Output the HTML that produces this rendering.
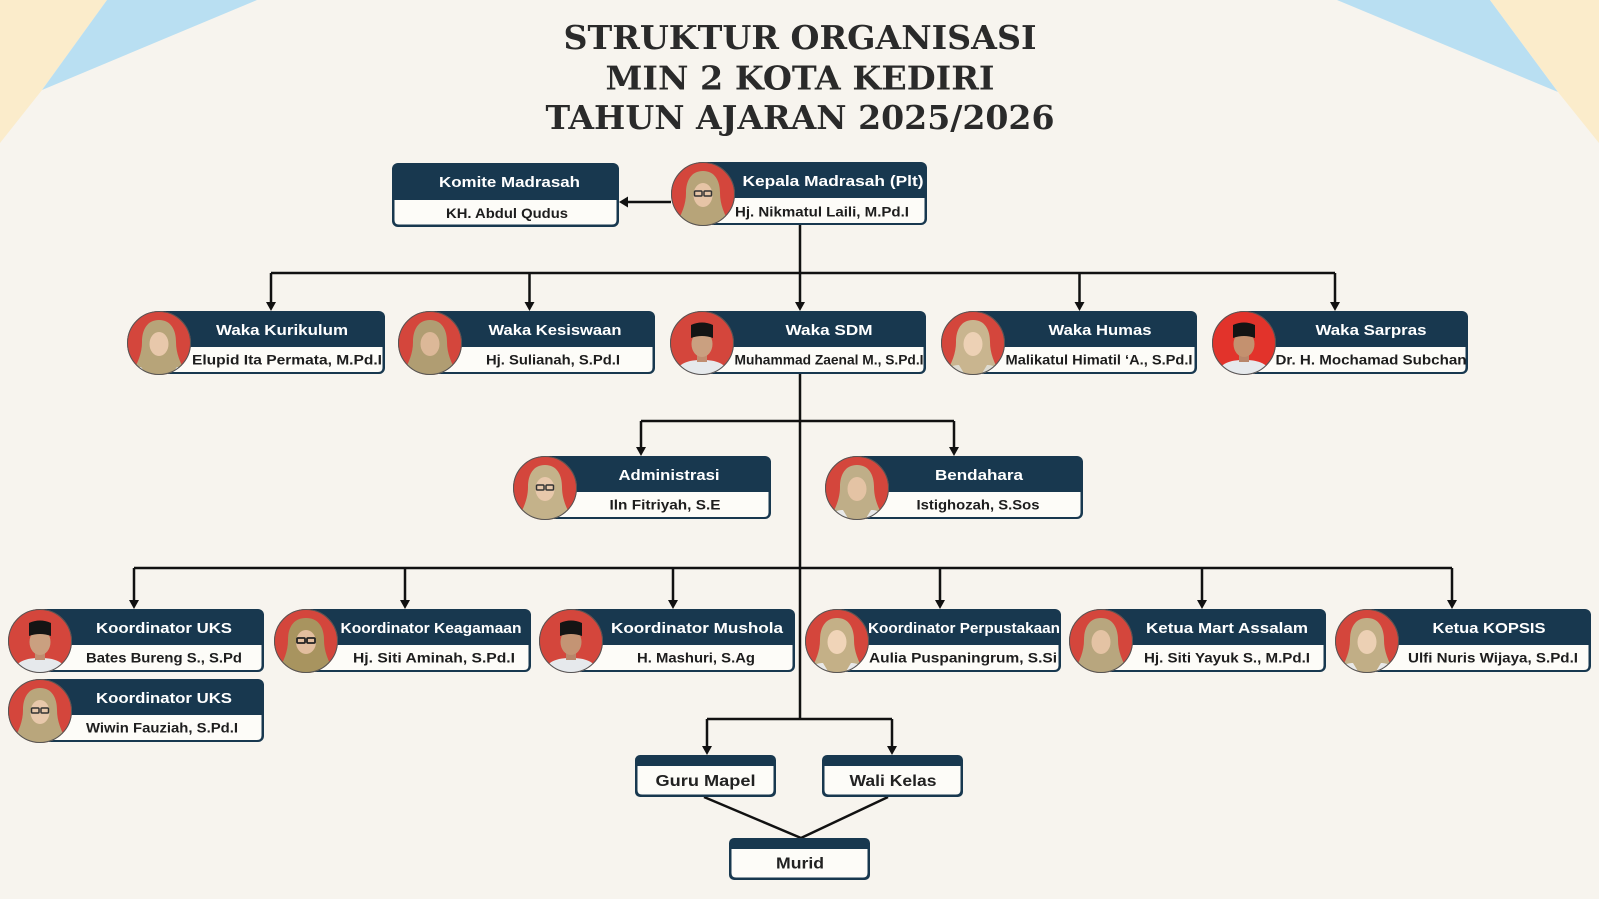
<!DOCTYPE html>
<html>
<head>
<meta charset="utf-8">
<style>
  html,body{margin:0;padding:0;background:#f7f4ee;}
  svg{display:block;}
  .hd{font-family:"Liberation Sans",Arial,sans-serif;font-weight:bold;font-size:15px;fill:#ffffff;}
  .nm{font-family:"Liberation Sans",Arial,sans-serif;font-weight:bold;font-size:13.5px;fill:#1d1d1d;}
  .tt{font-family:"DejaVu Serif","Liberation Serif",serif;font-weight:bold;font-size:33px;fill:#2a2a2a;}
  .bx{font-family:"Liberation Sans",Arial,sans-serif;font-weight:bold;font-size:16px;fill:#222;}
</style>
</head>
<body>
<svg width="1599" height="899" viewBox="0 0 1599 899" xmlns="http://www.w3.org/2000/svg">
<defs>
  <clipPath id="cp"><circle cx="32" cy="32" r="32"/></clipPath>
</defs>
<rect width="1599" height="899" fill="#f7f4ee"/>
<!-- corner decorations -->
<polygon points="0,0 107,0 42,90 0,143" fill="#fbeccb"/>
<polygon points="107,0 257,0 42,90" fill="#b9dff2"/>
<polygon points="1337,0 1490,0 1558,92" fill="#b9dff2"/>
<polygon points="1490,0 1599,0 1599,143 1558,92" fill="#fbeccb"/>

<!-- title -->
<text class="tt" x="800" y="49" text-anchor="middle" textLength="473" lengthAdjust="spacingAndGlyphs">STRUKTUR ORGANISASI</text>
<text class="tt" x="800" y="89.5" text-anchor="middle" textLength="389" lengthAdjust="spacingAndGlyphs">MIN 2 KOTA KEDIRI</text>
<text class="tt" x="800" y="129" text-anchor="middle" textLength="509" lengthAdjust="spacingAndGlyphs">TAHUN AJARAN 2025/2026</text>

<!-- connectors -->
<g stroke="#111" stroke-width="2.5" fill="none">
  <path d="M671 202 H627"/>
  <path d="M800 225 V273 M271 273 H1335 M271 273 V302 M529.5 273 V302 M800 273 V302 M1079.5 273 V302 M1335 273 V302"/>
  <path d="M800 374 V719"/>
  <path d="M641 421 H954 M641 421 V447 M954 421 V447"/>
  <path d="M134 568 H1452 M134 568 V600 M405 568 V600 M673 568 V600 M940 568 V600 M1202 568 V600 M1452 568 V600"/>
  <path d="M707 719 H892 M707 719 V746 M892 719 V746"/>
  <path d="M704 797 L801 838 M888 797 L801 838"/>
</g>
<g fill="#111">
  <path d="M628 196.5 L628 207.5 L619 202 Z"/>
  <path d="M266 302 H276 L271 311 Z"/>
  <path d="M524.5 302 H534.5 L529.5 311 Z"/>
  <path d="M795 302 H805 L800 311 Z"/>
  <path d="M1074.5 302 H1084.5 L1079.5 311 Z"/>
  <path d="M1330 302 H1340 L1335 311 Z"/>
  <path d="M636 447 H646 L641 456 Z"/>
  <path d="M949 447 H959 L954 456 Z"/>
  <path d="M129 600 H139 L134 609 Z"/>
  <path d="M400 600 H410 L405 609 Z"/>
  <path d="M668 600 H678 L673 609 Z"/>
  <path d="M935 600 H945 L940 609 Z"/>
  <path d="M1197 600 H1207 L1202 609 Z"/>
  <path d="M1447 600 H1457 L1452 609 Z"/>
  <path d="M702 746 H712 L707 755 Z"/>
  <path d="M887 746 H897 L892 755 Z"/>
</g>

<!-- Komite Madrasah -->
<rect x="392" y="163" width="227" height="64" rx="6" fill="#18384f"/>
<path d="M394.5 200 H616.5 V220 Q616.5 224.5 612 224.5 H399 Q394.5 224.5 394.5 220 Z" fill="#fdfcf8"/>
<text class="hd" x="509.5" y="187" text-anchor="middle" textLength="141" lengthAdjust="spacingAndGlyphs">Komite Madrasah</text>
<text class="nm" x="507" y="218" text-anchor="middle" textLength="122" lengthAdjust="spacingAndGlyphs">KH. Abdul Qudus</text>

<!-- CARD TEMPLATE: navy rect from x0+30 to R, T..T+63 ; white body T+36..T+61 -->
<!-- 1 Kepala -->
<rect x="701" y="162" width="226" height="63" rx="6" fill="#18384f"/>
<path d="M701 198 H924.5 V218.5 Q924.5 223 920 223 H701 Z" fill="#fdfcf8"/>
<text class="hd" x="833" y="186" text-anchor="middle" textLength="181" lengthAdjust="spacingAndGlyphs">Kepala Madrasah (Plt)</text>
<text class="nm" x="822" y="216.5" text-anchor="middle" textLength="174" lengthAdjust="spacingAndGlyphs">Hj. Nikmatul Laili, M.Pd.I</text>

<!-- 2 Kurikulum -->
<rect x="157" y="311" width="228" height="63" rx="6" fill="#18384f"/>
<path d="M157 347 H382.5 V367.5 Q382.5 372 378 372 H157 Z" fill="#fdfcf8"/>
<text class="hd" x="282" y="335" text-anchor="middle" textLength="132" lengthAdjust="spacingAndGlyphs">Waka Kurikulum</text>
<text class="nm" x="287" y="364.5" text-anchor="middle" textLength="190" lengthAdjust="spacingAndGlyphs">Elupid Ita Permata, M.Pd.I</text>

<!-- 3 Kesiswaan -->
<rect x="428" y="311" width="227" height="63" rx="6" fill="#18384f"/>
<path d="M428 347 H652.5 V367.5 Q652.5 372 648 372 H428 Z" fill="#fdfcf8"/>
<text class="hd" x="555" y="335" text-anchor="middle" textLength="133" lengthAdjust="spacingAndGlyphs">Waka Kesiswaan</text>
<text class="nm" x="553" y="364.5" text-anchor="middle" textLength="134" lengthAdjust="spacingAndGlyphs">Hj. Sulianah, S.Pd.I</text>

<!-- 4 SDM -->
<rect x="700" y="311" width="226" height="63" rx="6" fill="#18384f"/>
<path d="M700 347 H923.5 V367.5 Q923.5 372 919 372 H700 Z" fill="#fdfcf8"/>
<text class="hd" x="829" y="335" text-anchor="middle" textLength="87" lengthAdjust="spacingAndGlyphs">Waka SDM</text>
<text class="nm" x="829" y="364.5" text-anchor="middle" textLength="189" lengthAdjust="spacingAndGlyphs">Muhammad Zaenal M., S.Pd.I</text>

<!-- 5 Humas -->
<rect x="971" y="311" width="226" height="63" rx="6" fill="#18384f"/>
<path d="M971 347 H1194.5 V367.5 Q1194.5 372 1190 372 H971 Z" fill="#fdfcf8"/>
<text class="hd" x="1100" y="335" text-anchor="middle" textLength="103" lengthAdjust="spacingAndGlyphs">Waka Humas</text>
<text class="nm" x="1099" y="364.5" text-anchor="middle" textLength="187" lengthAdjust="spacingAndGlyphs">Malikatul Himatil ‘A., S.Pd.I</text>

<!-- 6 Sarpras -->
<rect x="1242" y="311" width="226" height="63" rx="6" fill="#18384f"/>
<path d="M1242 347 H1465.5 V367.5 Q1465.5 372 1461 372 H1242 Z" fill="#fdfcf8"/>
<text class="hd" x="1371" y="335" text-anchor="middle" textLength="111" lengthAdjust="spacingAndGlyphs">Waka Sarpras</text>
<text class="nm" x="1371" y="364.5" text-anchor="middle" textLength="191" lengthAdjust="spacingAndGlyphs">Dr. H. Mochamad Subchan</text>

<!-- 7 Administrasi -->
<rect x="543" y="456" width="228" height="63" rx="6" fill="#18384f"/>
<path d="M543 492 H768.5 V512.5 Q768.5 517 764 517 H543 Z" fill="#fdfcf8"/>
<text class="hd" x="669" y="480" text-anchor="middle" textLength="101" lengthAdjust="spacingAndGlyphs">Administrasi</text>
<text class="nm" x="665" y="509.5" text-anchor="middle" textLength="111" lengthAdjust="spacingAndGlyphs">Iln Fitriyah, S.E</text>

<!-- 8 Bendahara -->
<rect x="855" y="456" width="228" height="63" rx="6" fill="#18384f"/>
<path d="M855 492 H1080.5 V512.5 Q1080.5 517 1076 517 H855 Z" fill="#fdfcf8"/>
<text class="hd" x="979" y="480" text-anchor="middle" textLength="88" lengthAdjust="spacingAndGlyphs">Bendahara</text>
<text class="nm" x="978" y="509.5" text-anchor="middle" textLength="123" lengthAdjust="spacingAndGlyphs">Istighozah, S.Sos</text>

<!-- 9 UKS1 -->
<rect x="38" y="609" width="226" height="63" rx="6" fill="#18384f"/>
<path d="M38 645 H261.5 V665.5 Q261.5 670 257 670 H38 Z" fill="#fdfcf8"/>
<text class="hd" x="164" y="633" text-anchor="middle" textLength="136" lengthAdjust="spacingAndGlyphs">Koordinator UKS</text>
<text class="nm" x="164" y="662.5" text-anchor="middle" textLength="156" lengthAdjust="spacingAndGlyphs">Bates Bureng S., S.Pd</text>

<!-- 10 UKS2 -->
<rect x="38" y="679" width="226" height="63" rx="6" fill="#18384f"/>
<path d="M38 715 H261.5 V735.5 Q261.5 740 257 740 H38 Z" fill="#fdfcf8"/>
<text class="hd" x="164" y="703" text-anchor="middle" textLength="136" lengthAdjust="spacingAndGlyphs">Koordinator UKS</text>
<text class="nm" x="162" y="732.5" text-anchor="middle" textLength="152" lengthAdjust="spacingAndGlyphs">Wiwin Fauziah, S.Pd.I</text>

<!-- 11 Keagamaan -->
<rect x="304" y="609" width="227" height="63" rx="6" fill="#18384f"/>
<path d="M304 645 H528.5 V665.5 Q528.5 670 524 670 H304 Z" fill="#fdfcf8"/>
<text class="hd" x="431" y="633" text-anchor="middle" textLength="181" lengthAdjust="spacingAndGlyphs">Koordinator Keagamaan</text>
<text class="nm" x="434" y="662.5" text-anchor="middle" textLength="162" lengthAdjust="spacingAndGlyphs">Hj. Siti Aminah, S.Pd.I</text>

<!-- 12 Mushola -->
<rect x="569" y="609" width="226" height="63" rx="6" fill="#18384f"/>
<path d="M569 645 H792.5 V665.5 Q792.5 670 788 670 H569 Z" fill="#fdfcf8"/>
<text class="hd" x="697" y="633" text-anchor="middle" textLength="172" lengthAdjust="spacingAndGlyphs">Koordinator Mushola</text>
<text class="nm" x="696" y="662.5" text-anchor="middle" textLength="118" lengthAdjust="spacingAndGlyphs">H. Mashuri, S.Ag</text>

<!-- 13 Perpustakaan -->
<rect x="835" y="609" width="226" height="63" rx="6" fill="#18384f"/>
<path d="M835 645 H1058.5 V665.5 Q1058.5 670 1054 670 H835 Z" fill="#fdfcf8"/>
<text class="hd" x="964" y="633" text-anchor="middle" textLength="192" lengthAdjust="spacingAndGlyphs">Koordinator Perpustakaan</text>
<text class="nm" x="963" y="662.5" text-anchor="middle" textLength="188" lengthAdjust="spacingAndGlyphs">Aulia Puspaningrum, S.Si</text>

<!-- 14 Mart Assalam -->
<rect x="1099" y="609" width="227" height="63" rx="6" fill="#18384f"/>
<path d="M1099 645 H1323.5 V665.5 Q1323.5 670 1319 670 H1099 Z" fill="#fdfcf8"/>
<text class="hd" x="1227" y="633" text-anchor="middle" textLength="162" lengthAdjust="spacingAndGlyphs">Ketua Mart Assalam</text>
<text class="nm" x="1227" y="662.5" text-anchor="middle" textLength="166" lengthAdjust="spacingAndGlyphs">Hj. Siti Yayuk S., M.Pd.I</text>

<!-- 15 KOPSIS -->
<rect x="1365" y="609" width="226" height="63" rx="6" fill="#18384f"/>
<path d="M1365 645 H1588.5 V665.5 Q1588.5 670 1584 670 H1365 Z" fill="#fdfcf8"/>
<text class="hd" x="1489" y="633" text-anchor="middle" textLength="113" lengthAdjust="spacingAndGlyphs">Ketua KOPSIS</text>
<text class="nm" x="1493" y="662.5" text-anchor="middle" textLength="170" lengthAdjust="spacingAndGlyphs">Ulfi Nuris Wijaya, S.Pd.I</text>

<!-- PHOTOS -->
<!-- female template -->
<g id="photos">
<!-- Kepala (F, glasses) -->
<g transform="translate(671,162)"><g clip-path="url(#cp)"><rect width="64" height="64" fill="#d4463c"/><path d="M32 9 C20 9 15 19 15 31 C15 42 11 52 4 64 H60 C53 52 49 42 49 31 C49 19 44 9 32 9Z" fill="#b7a479"/><ellipse cx="32" cy="33" rx="9.5" ry="12" fill="#e6c4a6"/><g fill="none" stroke="#333" stroke-width="1.5"><rect x="23.5" y="29" width="7.5" height="5" rx="1"/><rect x="33" y="29" width="7.5" height="5" rx="1"/></g></g><circle cx="32" cy="32" r="31.5" fill="none" stroke="#555" stroke-width="1"/></g>
<!-- Kurikulum F -->
<g transform="translate(127,311)"><g clip-path="url(#cp)"><rect width="64" height="64" fill="#d4463c"/><path d="M32 9 C20 9 15 19 15 31 C15 42 11 52 4 64 H60 C53 52 49 42 49 31 C49 19 44 9 32 9Z" fill="#b7a479"/><ellipse cx="32" cy="33" rx="9.5" ry="12" fill="#e8c8ab"/><path d="M2 64 C6 58 10 56 14 56 L20 64Z" fill="#e9e9e9"/><path d="M62 64 C58 58 54 56 50 56 L44 64Z" fill="#e9e9e9"/></g><circle cx="32" cy="32" r="31.5" fill="none" stroke="#555" stroke-width="1"/></g>
<!-- Kesiswaan F -->
<g transform="translate(398,311)"><g clip-path="url(#cp)"><rect width="64" height="64" fill="#d4463c"/><path d="M32 9 C20 9 15 19 15 31 C15 42 11 52 4 64 H60 C53 52 49 42 49 31 C49 19 44 9 32 9Z" fill="#b09d72"/><ellipse cx="32" cy="33" rx="9.5" ry="12" fill="#dcb898"/></g><circle cx="32" cy="32" r="31.5" fill="none" stroke="#555" stroke-width="1"/></g>
<!-- SDM M -->
<g transform="translate(670,311)"><g clip-path="url(#cp)"><rect width="64" height="64" fill="#d4463c"/><path d="M4 64 C8 52 18 49 32 49 C46 49 56 52 60 64Z" fill="#e6e9ec"/><rect x="27" y="42" width="10" height="9" fill="#c08d70"/><ellipse cx="32" cy="33" rx="10.5" ry="13" fill="#caa080"/><path d="M21 27 V14 Q32 9 43 14 V27 Q32 23 21 27Z" fill="#141414"/></g><circle cx="32" cy="32" r="31.5" fill="none" stroke="#555" stroke-width="1"/></g>
<!-- Humas F -->
<g transform="translate(941,311)"><g clip-path="url(#cp)"><rect width="64" height="64" fill="#d4463c"/><path d="M32 9 C20 9 15 19 15 31 C15 42 11 52 4 64 H60 C53 52 49 42 49 31 C49 19 44 9 32 9Z" fill="#c9b58f"/><ellipse cx="32" cy="33" rx="9.5" ry="12" fill="#edd1b5"/><path d="M2 64 C6 56 12 54 18 54 L24 64Z" fill="#dedcd2"/><path d="M62 64 C58 56 52 54 46 54 L40 64Z" fill="#dedcd2"/></g><circle cx="32" cy="32" r="31.5" fill="none" stroke="#555" stroke-width="1"/></g>
<!-- Sarpras M -->
<g transform="translate(1212,311)"><g clip-path="url(#cp)"><rect width="64" height="64" fill="#e2332b"/><path d="M4 64 C8 52 18 49 32 49 C46 49 56 52 60 64Z" fill="#e6e9ec"/><rect x="27" y="42" width="10" height="9" fill="#b8866a"/><ellipse cx="32" cy="33" rx="10.5" ry="13" fill="#c4916f"/><path d="M21 27 V14 Q32 9 43 14 V27 Q32 23 21 27Z" fill="#141414"/></g><circle cx="32" cy="32" r="31.5" fill="none" stroke="#555" stroke-width="1"/></g>
<!-- Admin F glasses -->
<g transform="translate(513,456)"><g clip-path="url(#cp)"><rect width="64" height="64" fill="#d4463c"/><path d="M32 9 C20 9 15 19 15 31 C15 42 11 52 4 64 H60 C53 52 49 42 49 31 C49 19 44 9 32 9Z" fill="#c4b28a"/><ellipse cx="32" cy="33" rx="9.5" ry="12" fill="#e8c8ab"/><g fill="none" stroke="#333" stroke-width="1.5"><rect x="23.5" y="29" width="7.5" height="5" rx="1"/><rect x="33" y="29" width="7.5" height="5" rx="1"/></g></g><circle cx="32" cy="32" r="31.5" fill="none" stroke="#555" stroke-width="1"/></g>
<!-- Bendahara F -->
<g transform="translate(825,456)"><g clip-path="url(#cp)"><rect width="64" height="64" fill="#d4463c"/><path d="M32 9 C20 9 15 19 15 31 C15 42 11 52 4 64 H60 C53 52 49 42 49 31 C49 19 44 9 32 9Z" fill="#bfae88"/><ellipse cx="32" cy="33" rx="9.5" ry="12" fill="#e4c3a4"/><path d="M2 64 C6 56 12 54 18 54 L24 64Z" fill="#e9e9e9"/><path d="M62 64 C58 56 52 54 46 54 L40 64Z" fill="#e9e9e9"/></g><circle cx="32" cy="32" r="31.5" fill="none" stroke="#555" stroke-width="1"/></g>
<!-- UKS1 M -->
<g transform="translate(8,609)"><g clip-path="url(#cp)"><rect width="64" height="64" fill="#d4463c"/><path d="M4 64 C8 52 18 49 32 49 C46 49 56 52 60 64Z" fill="#e6e9ec"/><rect x="27" y="42" width="10" height="9" fill="#c08d70"/><ellipse cx="32" cy="33" rx="10.5" ry="13" fill="#caa080"/><path d="M21 27 V14 Q32 9 43 14 V27 Q32 23 21 27Z" fill="#141414"/></g><circle cx="32" cy="32" r="31.5" fill="none" stroke="#555" stroke-width="1"/></g>
<!-- UKS2 F glasses -->
<g transform="translate(8,679)"><g clip-path="url(#cp)"><rect width="64" height="64" fill="#d4463c"/><path d="M32 9 C20 9 15 19 15 31 C15 42 11 52 4 64 H60 C53 52 49 42 49 31 C49 19 44 9 32 9Z" fill="#b9a67c"/><ellipse cx="32" cy="33" rx="9.5" ry="12" fill="#e8c8ab"/><g fill="none" stroke="#333" stroke-width="1.5"><rect x="23.5" y="29" width="7.5" height="5" rx="1"/><rect x="33" y="29" width="7.5" height="5" rx="1"/></g></g><circle cx="32" cy="32" r="31.5" fill="none" stroke="#555" stroke-width="1"/></g>
<!-- Keagamaan F glasses -->
<g transform="translate(274,609)"><g clip-path="url(#cp)"><rect width="64" height="64" fill="#d4463c"/><path d="M32 9 C19 9 14 19 14 31 C14 42 10 52 3 64 H61 C54 52 50 42 50 31 C50 19 45 9 32 9Z" fill="#a8945f"/><ellipse cx="32" cy="33" rx="10" ry="12" fill="#e2be9e"/><g fill="none" stroke="#222" stroke-width="1.8"><rect x="23" y="29" width="8" height="5" rx="1"/><rect x="33" y="29" width="8" height="5" rx="1"/></g></g><circle cx="32" cy="32" r="31.5" fill="none" stroke="#555" stroke-width="1"/></g>
<!-- Mushola M -->
<g transform="translate(539,609)"><g clip-path="url(#cp)"><rect width="64" height="64" fill="#d4463c"/><path d="M4 64 C8 52 18 49 32 49 C46 49 56 52 60 64Z" fill="#e6e9ec"/><rect x="27" y="42" width="10" height="9" fill="#b8866a"/><ellipse cx="32" cy="33" rx="10.5" ry="13" fill="#c49474"/><path d="M21 27 V14 Q32 9 43 14 V27 Q32 23 21 27Z" fill="#141414"/></g><circle cx="32" cy="32" r="31.5" fill="none" stroke="#555" stroke-width="1"/></g>
<!-- Perpus F -->
<g transform="translate(805,609)"><g clip-path="url(#cp)"><rect width="64" height="64" fill="#d4463c"/><path d="M32 9 C20 9 15 19 15 31 C15 42 11 52 4 64 H60 C53 52 49 42 49 31 C49 19 44 9 32 9Z" fill="#c4b087"/><ellipse cx="32" cy="33" rx="9.5" ry="12" fill="#f0d4b8"/><path d="M2 64 C6 56 12 54 18 54 L24 64Z" fill="#e9e9e9"/><path d="M62 64 C58 56 52 54 46 54 L40 64Z" fill="#e9e9e9"/></g><circle cx="32" cy="32" r="31.5" fill="none" stroke="#555" stroke-width="1"/></g>
<!-- Mart F -->
<g transform="translate(1069,609)"><g clip-path="url(#cp)"><rect width="64" height="64" fill="#d4463c"/><path d="M32 9 C20 9 15 19 15 31 C15 42 11 52 4 64 H60 C53 52 49 42 49 31 C49 19 44 9 32 9Z" fill="#b8a67e"/><ellipse cx="32" cy="33" rx="9.5" ry="12" fill="#e4c3a4"/></g><circle cx="32" cy="32" r="31.5" fill="none" stroke="#555" stroke-width="1"/></g>
<!-- KOPSIS F -->
<g transform="translate(1335,609)"><g clip-path="url(#cp)"><rect width="64" height="64" fill="#d4463c"/><path d="M32 9 C20 9 15 19 15 31 C15 42 11 52 4 64 H60 C53 52 49 42 49 31 C49 19 44 9 32 9Z" fill="#c1ae86"/><ellipse cx="32" cy="33" rx="9.5" ry="12" fill="#ecd0b4"/><path d="M2 64 C6 56 12 54 18 54 L24 64Z" fill="#e9e9e9"/><path d="M62 64 C58 56 52 54 46 54 L40 64Z" fill="#e9e9e9"/></g><circle cx="32" cy="32" r="31.5" fill="none" stroke="#555" stroke-width="1"/></g>
</g>

<!-- Guru Mapel / Wali Kelas / Murid -->
<rect x="635" y="755" width="141" height="42" rx="5" fill="#18384f"/>
<path d="M637.5 766 H773.5 V790 Q773.5 794.5 769 794.5 H642 Q637.5 794.5 637.5 790 Z" fill="#fdfcf8"/>
<text class="bx" x="705.5" y="786" text-anchor="middle" textLength="100" lengthAdjust="spacingAndGlyphs">Guru Mapel</text>

<rect x="822" y="755" width="141" height="42" rx="5" fill="#18384f"/>
<path d="M824.5 766 H960.5 V790 Q960.5 794.5 956 794.5 H829 Q824.5 794.5 824.5 790 Z" fill="#fdfcf8"/>
<text class="bx" x="893" y="786" text-anchor="middle" textLength="87" lengthAdjust="spacingAndGlyphs">Wali Kelas</text>

<rect x="729" y="838" width="141" height="42" rx="5" fill="#18384f"/>
<path d="M731.5 849 H867.5 V873 Q867.5 877.5 863 877.5 H736 Q731.5 877.5 731.5 873 Z" fill="#fdfcf8"/>
<text class="bx" x="800" y="868.5" text-anchor="middle" textLength="48" lengthAdjust="spacingAndGlyphs">Murid</text>
</svg>
</body>
</html>
